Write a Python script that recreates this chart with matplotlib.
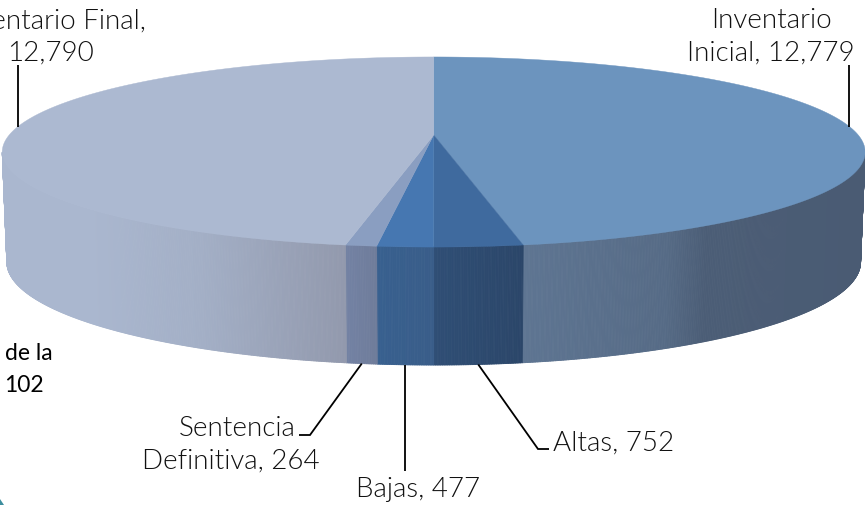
import numpy as np
import matplotlib
matplotlib.use("Agg")
import matplotlib.pyplot as plt
from matplotlib.collections import PolyCollection
from matplotlib.colors import to_rgb
from matplotlib.patches import Polygon

# Data (clockwise from 12 o'clock)
categories = ["Inventario\nInicial", "Altas", "Bajas", "Sentencia\nDefinitiva", "Inventario Final"]
values = [12779, 752, 477, 264, 12790]

top_colors = ["#6C94BE", "#3F6A9E", "#4677B1", "#8A9EC1", "#ACB9D1"]
side_stops = [
    [(524, "#5E7592"), (665, "#566B86"), (705, "#4B5D76"), (865, "#4A5B73")],
    [(434, "#2F4E75"), (524, "#2B4669")],
    [(377, "#38608F"), (434, "#395D89")],
    [(345, "#7382A4"), (377, "#6F7C9A")],
    [(0, "#AAB7CF"), (90, "#AAB7CF"), (200, "#A3AFC6"), (345, "#9299AD")],
]

# Projection of the pie's disc
CX, K = 433.7, 0.179
TOP = dict(A=424.5, B=92, Y0=135)
BOT = dict(A=420, B=99.7, Y0=243.6)


def project(theta, f, r=1.0):
    u, v = np.sin(theta) * r, np.cos(theta) * r
    d = 1 + K * v
    return CX + f["A"] * u / d, f["Y0"] - f["B"] * v / d


fig = plt.figure(figsize=(8.65, 5.05), dpi=100)
ax = fig.add_axes([0, 0, 1, 1])
ax.set_xlim(0, 865)
ax.set_ylim(505, 0)
ax.axis("off")

edges = np.concatenate([[0], np.cumsum(values)]) / sum(values) * 2 * np.pi
vis = np.arccos(-K)  # silhouette angle

# side walls
for i in range(len(values)):
    lo, hi = max(edges[i], vis), min(edges[i + 1], 2 * np.pi - vis)
    if hi <= lo:
        continue
    t = np.linspace(lo, hi, max(int((hi - lo) * 300), 2))
    xt, yt = project(t, TOP)
    xb, yb = project(t, BOT)
    sx, sc = zip(*side_stops[i])
    rgb = np.array([to_rgb(c) for c in sc])
    polys, cols = [], []
    for j in range(len(t) - 1):
        polys.append([(xt[j], yt[j]), (xt[j + 1], yt[j + 1]), (xb[j + 1], yb[j + 1]), (xb[j], yb[j])])
        xm = (xt[j] + xt[j + 1] + xb[j] + xb[j + 1]) / 4
        cols.append([np.interp(xm, sx, rgb[:, c]) for c in range(3)])
    ax.add_collection(PolyCollection(polys, facecolors=cols, edgecolors=cols, linewidths=0.6, zorder=2))

# top face
for i in range(len(values)):
    t = np.linspace(edges[i], edges[i + 1], 300)
    x, y = project(t, TOP)
    pts = np.column_stack([np.r_[CX, x], np.r_[TOP["Y0"], y]])
    ax.add_patch(Polygon(pts, closed=True, facecolor=top_colors[i], edgecolor=top_colors[i], lw=0.3, zorder=3))

mids = (edges[:-1] + edges[1:]) / 2
line = dict(color="black", lw=1.3, zorder=4, solid_capstyle="butt", solid_joinstyle="miter")

# leader lines
x0, y0 = project(mids[0], TOP, 0.997)
ax.plot([x0, x0], [y0, 65], **line)
x4, y4 = project(mids[4], TOP, 0.997)
ax.plot([x4, x4], [y4, 65], **line)
x1, y1 = project(mids[1], BOT)
ax.plot([x1, 538, 549], [y1, 449, 449], **line)
x2, y2 = project(mids[2], BOT)
ax.plot([x2, x2], [y2, 471], **line)
x3, y3 = project(mids[3], BOT)
ax.plot([x3, 310, 299], [y3, 435, 435], **line)

font = dict(family="Lato", weight=300, fontsize=20, color="#111111", zorder=5, linespacing=1.38)
ax.text(771, 37, f"Inventario\nInicial, {values[0]:,}", ha="center", va="center", **font)
ax.text(50, 37, f"Inventario Final,\n{values[4]:,}", ha="center", va="center", **font)
ax.text(614, 443, f"Altas, {values[1]:,}", ha="center", va="center", **font)
ax.text(418, 490, f"Bajas, {values[2]:,}", ha="center", va="center", **font)
ax.text(296, 429, "Sentencia", ha="right", va="center", **font)
ax.text(320, 461, f"Definitiva, {values[3]:,}", ha="right", va="center", **font)

small = dict(family="Lato", fontsize=16.5, color="black", ha="left", va="center")
ax.text(5, 353, "de la", **small)
ax.text(4, 386, "102", **small)

ax.add_patch(Polygon([(0, 505), (0, 499), (4, 505)], closed=True, facecolor="#3E8E9E", edgecolor="none"))

fig.savefig("out.png", dpi=100, facecolor="white")
